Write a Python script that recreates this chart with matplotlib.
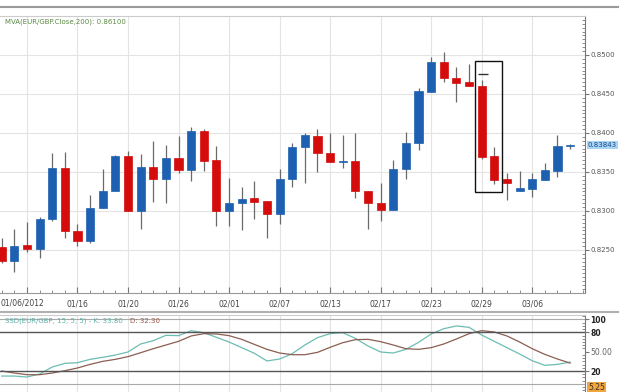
import matplotlib
matplotlib.use('Agg')
import matplotlib.pyplot as plt
from matplotlib.patches import Rectangle
from matplotlib.lines import Line2D
from matplotlib.ticker import MultipleLocator

# EUR/GBP daily candles, left to right
opens = [0.82542, 0.82359, 0.82560, 0.82509, 0.82894, 0.83555, 0.82744, 0.82615, 0.83035, 0.83256,
         0.83709, 0.83004, 0.83570, 0.83410, 0.83679, 0.83526, 0.84029, 0.83650, 0.83000, 0.83099,
         0.83163, 0.83124, 0.82961, 0.83406, 0.83820, 0.83965, 0.83744, 0.83628, 0.83645, 0.83256,
         0.83099, 0.83013, 0.83538, 0.83868, 0.84529, 0.84914, 0.84709, 0.84650, 0.84606, 0.83705,
         0.83406, 0.83256, 0.83282, 0.83397, 0.83517, 0.83833]
highs = [0.82650, 0.82765, 0.82863, 0.82927, 0.83740, 0.83753, 0.82829, 0.83201, 0.83535, 0.83718,
         0.83773, 0.83727, 0.83897, 0.83846, 0.83965, 0.84073, 0.84045, 0.83837, 0.83427, 0.83312,
         0.83385, 0.83124, 0.83535, 0.83868, 0.84004, 0.84047, 0.84004, 0.83974, 0.84004, 0.83256,
         0.83355, 0.83654, 0.84017, 0.84573, 0.84971, 0.85042, 0.84850, 0.84885, 0.84679, 0.83817,
         0.83491, 0.83513, 0.83491, 0.83612, 0.83974, 0.83853]
lows = [0.82333, 0.82222, 0.82478, 0.82401, 0.82872, 0.82650, 0.82551, 0.82594, 0.83035, 0.83256,
        0.83000, 0.82765, 0.83119, 0.83099, 0.83491, 0.83385, 0.83513, 0.82808, 0.82812, 0.82756,
        0.82897, 0.82650, 0.82833, 0.83304, 0.83363, 0.83504, 0.83622, 0.83555, 0.83163, 0.82765,
        0.82872, 0.83013, 0.83406, 0.83782, 0.84522, 0.84650, 0.84401, 0.84600, 0.83663, 0.83346,
        0.83141, 0.83250, 0.83183, 0.83397, 0.83432, 0.83795]
closes = [0.82359, 0.82555, 0.82509, 0.82901, 0.83555, 0.82744, 0.82615, 0.83042, 0.83260, 0.83709,
          0.83004, 0.83568, 0.83410, 0.83679, 0.83526, 0.84029, 0.83641, 0.83000, 0.83099, 0.83158,
          0.83119, 0.82961, 0.83406, 0.83824, 0.83970, 0.83744, 0.83628, 0.83645, 0.83256, 0.83099,
          0.83013, 0.83538, 0.83868, 0.84542, 0.84914, 0.84709, 0.84645, 0.84606, 0.83696, 0.83397,
          0.83363, 0.83291, 0.83406, 0.83526, 0.83833, 0.83843]

last_price = 0.83843
marker_price = 0.84756      # small dash above the big red candle
box_candles = [38, 39]      # candles inside the black box
box_low, box_high = 0.83240, 0.84923

date_ticks = [2, 6, 10, 14, 18, 22, 26, 30, 34, 38, 42]
date_labels = ['01/06/2012', '01/16', '01/20', '01/26', '02/01', '02/07',
               '02/13', '02/17', '02/23', '02/29', '03/06']
price_ticks = [0.8250, 0.8300, 0.8350, 0.8400, 0.8450, 0.8500]

# slow stochastic %K and %D
stoch_k = [12.2, 12.2, 10.7, 15.4, 26.2, 31.9, 32.9, 38.1, 41.2, 44.8,
           49.5, 61.9, 67.0, 75.3, 74.8, 82.5, 79.4, 72.2, 65.0, 56.2,
           47.5, 35.6, 38.6, 46.9, 60.3, 71.7, 77.9, 79.4, 70.6, 58.8,
           49.5, 47.9, 53.6, 64.4, 77.4, 85.6, 89.8, 87.7, 75.8, 66.0,
           56.2, 46.4, 36.0, 28.8, 30.3, 33.8]
stoch_d = [20.0, 16.9, 14.3, 14.3, 16.9, 20.5, 24.7, 30.3, 35.0, 38.1,
           42.3, 48.4, 54.6, 60.3, 66.0, 74.3, 77.9, 77.4, 74.8, 69.1,
           61.3, 53.6, 47.9, 45.3, 45.3, 48.9, 56.7, 63.9, 68.6, 69.1,
           65.5, 60.3, 54.6, 53.6, 56.2, 61.9, 69.6, 77.9, 82.5, 80.5,
           74.3, 65.0, 54.6, 45.8, 38.6, 32.3]

BLUE = '#1d5fb0'
RED = '#d40c0c'
W, H = 627, 392

fig = plt.figure(figsize=(6.27, 3.92), dpi=100)
ax = fig.add_axes([0, 1 - 293 / H, 585 / W, 277 / H])
ax2 = fig.add_axes([0, 0, 585 / W, 77 / H], sharex=ax)

# candles
for i in range(len(opens)):
    o, c = opens[i], closes[i]
    col = BLUE if c >= o else RED
    ax.vlines(i, lows[i], highs[i], color='#6a6a6a', lw=0.9, zorder=2)
    ax.bar(i, max(abs(c - o), 0.00004), bottom=min(o, c), width=0.64,
           color=col, edgecolor=col, lw=0.5, zorder=3)

ax.hlines(marker_price, 37.7, 38.5, color='#333333', lw=1.0, zorder=4)
ax.add_patch(Rectangle((box_candles[0] - 0.53, box_low), 2.12, box_high - box_low,
                       fill=False, edgecolor='#111111', lw=1.0, zorder=5))

ax.set_xlim(-0.135, 46.18)
ax.set_ylim(0.819487, 0.855)
ax.grid(True, color='#e3e3e3', lw=0.8)
ax.set_axisbelow(True)

ax.set_xticks(date_ticks)
ax.set_xticklabels([''] + date_labels[1:])
ax.xaxis.set_minor_locator(MultipleLocator(1))
ax.tick_params(axis='x', which='major', direction='in', length=4, pad=4.5,
               labelsize=5.5, labelcolor='#444444', color='#777777')
ax.tick_params(axis='x', which='minor', direction='in', length=2, color='#777777')
# first date sits against the left edge
ax.text(-0.12, -10 / 277, date_labels[0], transform=ax.get_xaxis_transform(),
        ha='left', va='center', fontsize=5.5, color='#444444')

ax.yaxis.tick_right()
ax.set_yticks(price_ticks)
ax.set_yticklabels(['%.4f' % p for p in price_ticks])
ax.yaxis.set_minor_locator(MultipleLocator(0.0005))
ax.tick_params(axis='y', which='major', direction='out', length=3, pad=1,
               labelsize=5, labelcolor='#555555', color='#777777')
ax.tick_params(axis='y', which='minor', direction='in', length=2, color='#777777')

ax.spines['left'].set_visible(False)
ax.spines['top'].set_color('#cccccc')
ax.spines['right'].set_color('#777777')
ax.spines['bottom'].set_color('#999999')

ax.text(1.005, last_price, '%.5f' % last_price, transform=ax.get_yaxis_transform(),
        ha='left', va='center', fontsize=5, color='#1a4a8a',
        bbox=dict(boxstyle='square,pad=0.15', fc='#aad4f5', ec='none'))

# stochastic panel
x = range(len(stoch_k))
ax2.plot(x, stoch_k, color='#6cbcb2', lw=0.9)
ax2.plot(x, stoch_d, color='#8b5e52', lw=0.9)
ax2.axhline(80, color='#555555', lw=1.0)
ax2.axhline(20, color='#555555', lw=1.0)
ax2.axhline(100, color='#aaaaaa', lw=0.8)
ax2.axhline(0, color='#aaaaaa', lw=0.8)
ax2.set_ylim(-12.5, 106.8)
ax2.grid(True, axis='x', color='#e3e3e3', lw=0.8)
ax2.set_axisbelow(True)
ax2.tick_params(axis='x', which='both', bottom=False, labelbottom=False)
ax2.yaxis.tick_right()
ax2.set_yticks([100, 80, 50, 20])
ax2.set_yticklabels(['100', '80', '50.00', '20'])
ax2.yaxis.set_minor_locator(MultipleLocator(5))
ax2.tick_params(axis='y', which='major', direction='out', length=3, pad=1,
                labelsize=5.5, labelcolor='#222222', color='#777777')
ax2.tick_params(axis='y', which='minor', direction='in', length=2, color='#777777')
for lab in ax2.get_yticklabels():
    if lab.get_text() != '50.00':
        lab.set_fontweight('bold')
    else:
        lab.set_color('#666666')
ax2.spines['left'].set_visible(False)
ax2.spines['bottom'].set_visible(False)
ax2.spines['top'].set_color('#cccccc')
ax2.spines['right'].set_color('#777777')
ax2.text(1.005, -5.25, '5.25', transform=ax2.get_yaxis_transform(), ha='left',
         va='center', fontsize=5.5, color='#333333',
         bbox=dict(boxstyle='square,pad=0.15', fc='#f2a53a', ec='none'))

# titles and separators
fig.text(5 / W, 1 - 21.7 / H, 'MVA(EUR/GBP.Close,200): 0.86100', fontsize=5,
         color='#5b8a45', va='center', ha='left')
fig.text(5 / W, 1 - 320.7 / H, 'SSD(EUR/GBP, 15, 5, 5) - K: 33.80 ', fontsize=5,
         color='#5fb0a8', va='center', ha='left')
fig.text(130 / W, 1 - 320.7 / H, 'D: 32.30', fontsize=5, color='#9a5a4a',
         va='center', ha='left')
fig.add_artist(Line2D([0, 0.985], [1 - 7.3 / H] * 2, transform=fig.transFigure,
                      color='#9a9a9a', lw=1.5))
fig.add_artist(Line2D([0, 0.985], [1 - 311.7 / H] * 2, transform=fig.transFigure,
                      color='#b0b0b0', lw=1.5))

fig.savefig('out.png', dpi=100)
